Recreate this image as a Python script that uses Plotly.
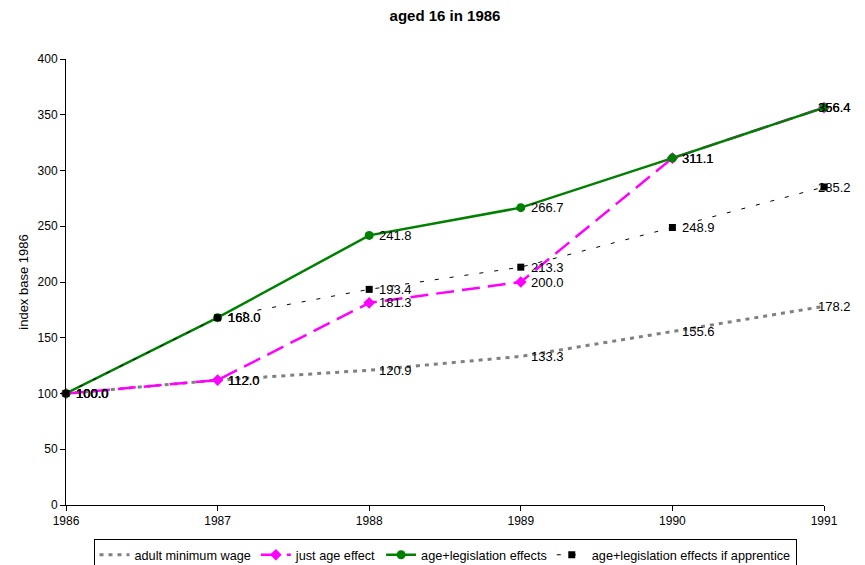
import plotly.graph_objects as go

years = [1986, 1987, 1988, 1989, 1990, 1991]
adult_min_wage = [100.0, 112.0, 120.9, 133.3, 155.6, 178.2]
just_age = [100.0, 112.0, 181.3, 200.0, 311.1, 356.4]
age_legis = [100.0, 168.0, 241.8, 266.7, 311.1, 356.4]
age_legis_appr = [100.0, 168.0, 193.4, 213.3, 248.9, 285.2]

names = ["adult minimum wage", "just age effect", "age+legislation effects",
         "age+legislation effects if apprentice"]

FONT = "Liberation Sans, Arial, sans-serif"

# page body has an 8px margin, so the figure is 8px smaller than the window
W, H = 857, 557
ML, MR, MT, MB = 58, 41, 51, 60
PH = H - MT - MB

fig = go.Figure()
fig.add_trace(go.Scatter(
    x=years, y=adult_min_wage, name=names[0], mode="lines",
    line=dict(color="#808080", width=3, dash="4px,5px"), cliponaxis=False))
fig.add_trace(go.Scatter(
    x=years, y=just_age, name=names[1], mode="lines+markers",
    line=dict(color="#FF00FF", width=2.5, dash="18px,8px"),
    marker=dict(symbol="diamond", size=9, color="#FF00FF"), cliponaxis=False))
fig.add_trace(go.Scatter(
    x=years, y=age_legis, name=names[2], mode="lines+markers",
    line=dict(color="#008000", width=2.5),
    marker=dict(symbol="circle", size=9, color="#008000"), cliponaxis=False))
fig.add_trace(go.Scatter(
    x=years, y=age_legis_appr, name=names[3], mode="lines+markers",
    line=dict(color="black", width=1, dash="4px,11px"),
    marker=dict(symbol="square", size=7, color="black"), cliponaxis=False))

# data labels, to the right of each point (last year's labels pulled back inside)
annotations = []
for series in [adult_min_wage, just_age, age_legis, age_legis_appr]:
    for i, (xv, yv) in enumerate(zip(years, series)):
        annotations.append(dict(
            x=xv, y=yv, xref="x", yref="y", text=f"{yv:.1f}",
            showarrow=False, xanchor="left", yanchor="middle",
            xshift=(-8 if i == len(years) - 1 else 8), yshift=0,
            font=dict(family=FONT, size=13, color="black")))

fig.update_layout(
    width=W, height=H,
    margin=dict(l=ML, r=MR, t=MT, b=MB, autoexpand=False),
    paper_bgcolor="white", plot_bgcolor="white",
    font=dict(family=FONT, size=12, color="black"),
    title=dict(text="<b>aged 16 in 1986</b>", x=0.5, xanchor="center",
               xref="paper", y=1 - 8 / H, yanchor="middle",
               font=dict(family=FONT, size=15, color="black")),
    annotations=annotations,
    showlegend=True,
    legend=dict(orientation="h", x=0.5, xanchor="center", y=-34 / PH, yanchor="top",
                bordercolor="black", borderwidth=1,
                font=dict(family=FONT, size=12.7, color="black"),
                itemwidth=30, tracegroupgap=0),
    xaxis=dict(range=[1986, 1991], tickmode="array", tickvals=years,
               ticktext=[str(y) for y in years], showgrid=False, zeroline=False,
               showline=True, linecolor="black", linewidth=1,
               ticks="outside", ticklen=5, tickcolor="black",
               tickfont=dict(family=FONT, size=12), automargin=False),
    yaxis=dict(range=[0, 400], dtick=50, showgrid=False, zeroline=False,
               showline=True, linecolor="black", linewidth=1,
               ticks="outside", ticklen=5, tickcolor="black",
               tickfont=dict(family=FONT, size=12), automargin=False,
               title=dict(text="index base 1986", font=dict(family=FONT, size=13),
                          standoff=6)),
)

fig.write_html("out.html")
